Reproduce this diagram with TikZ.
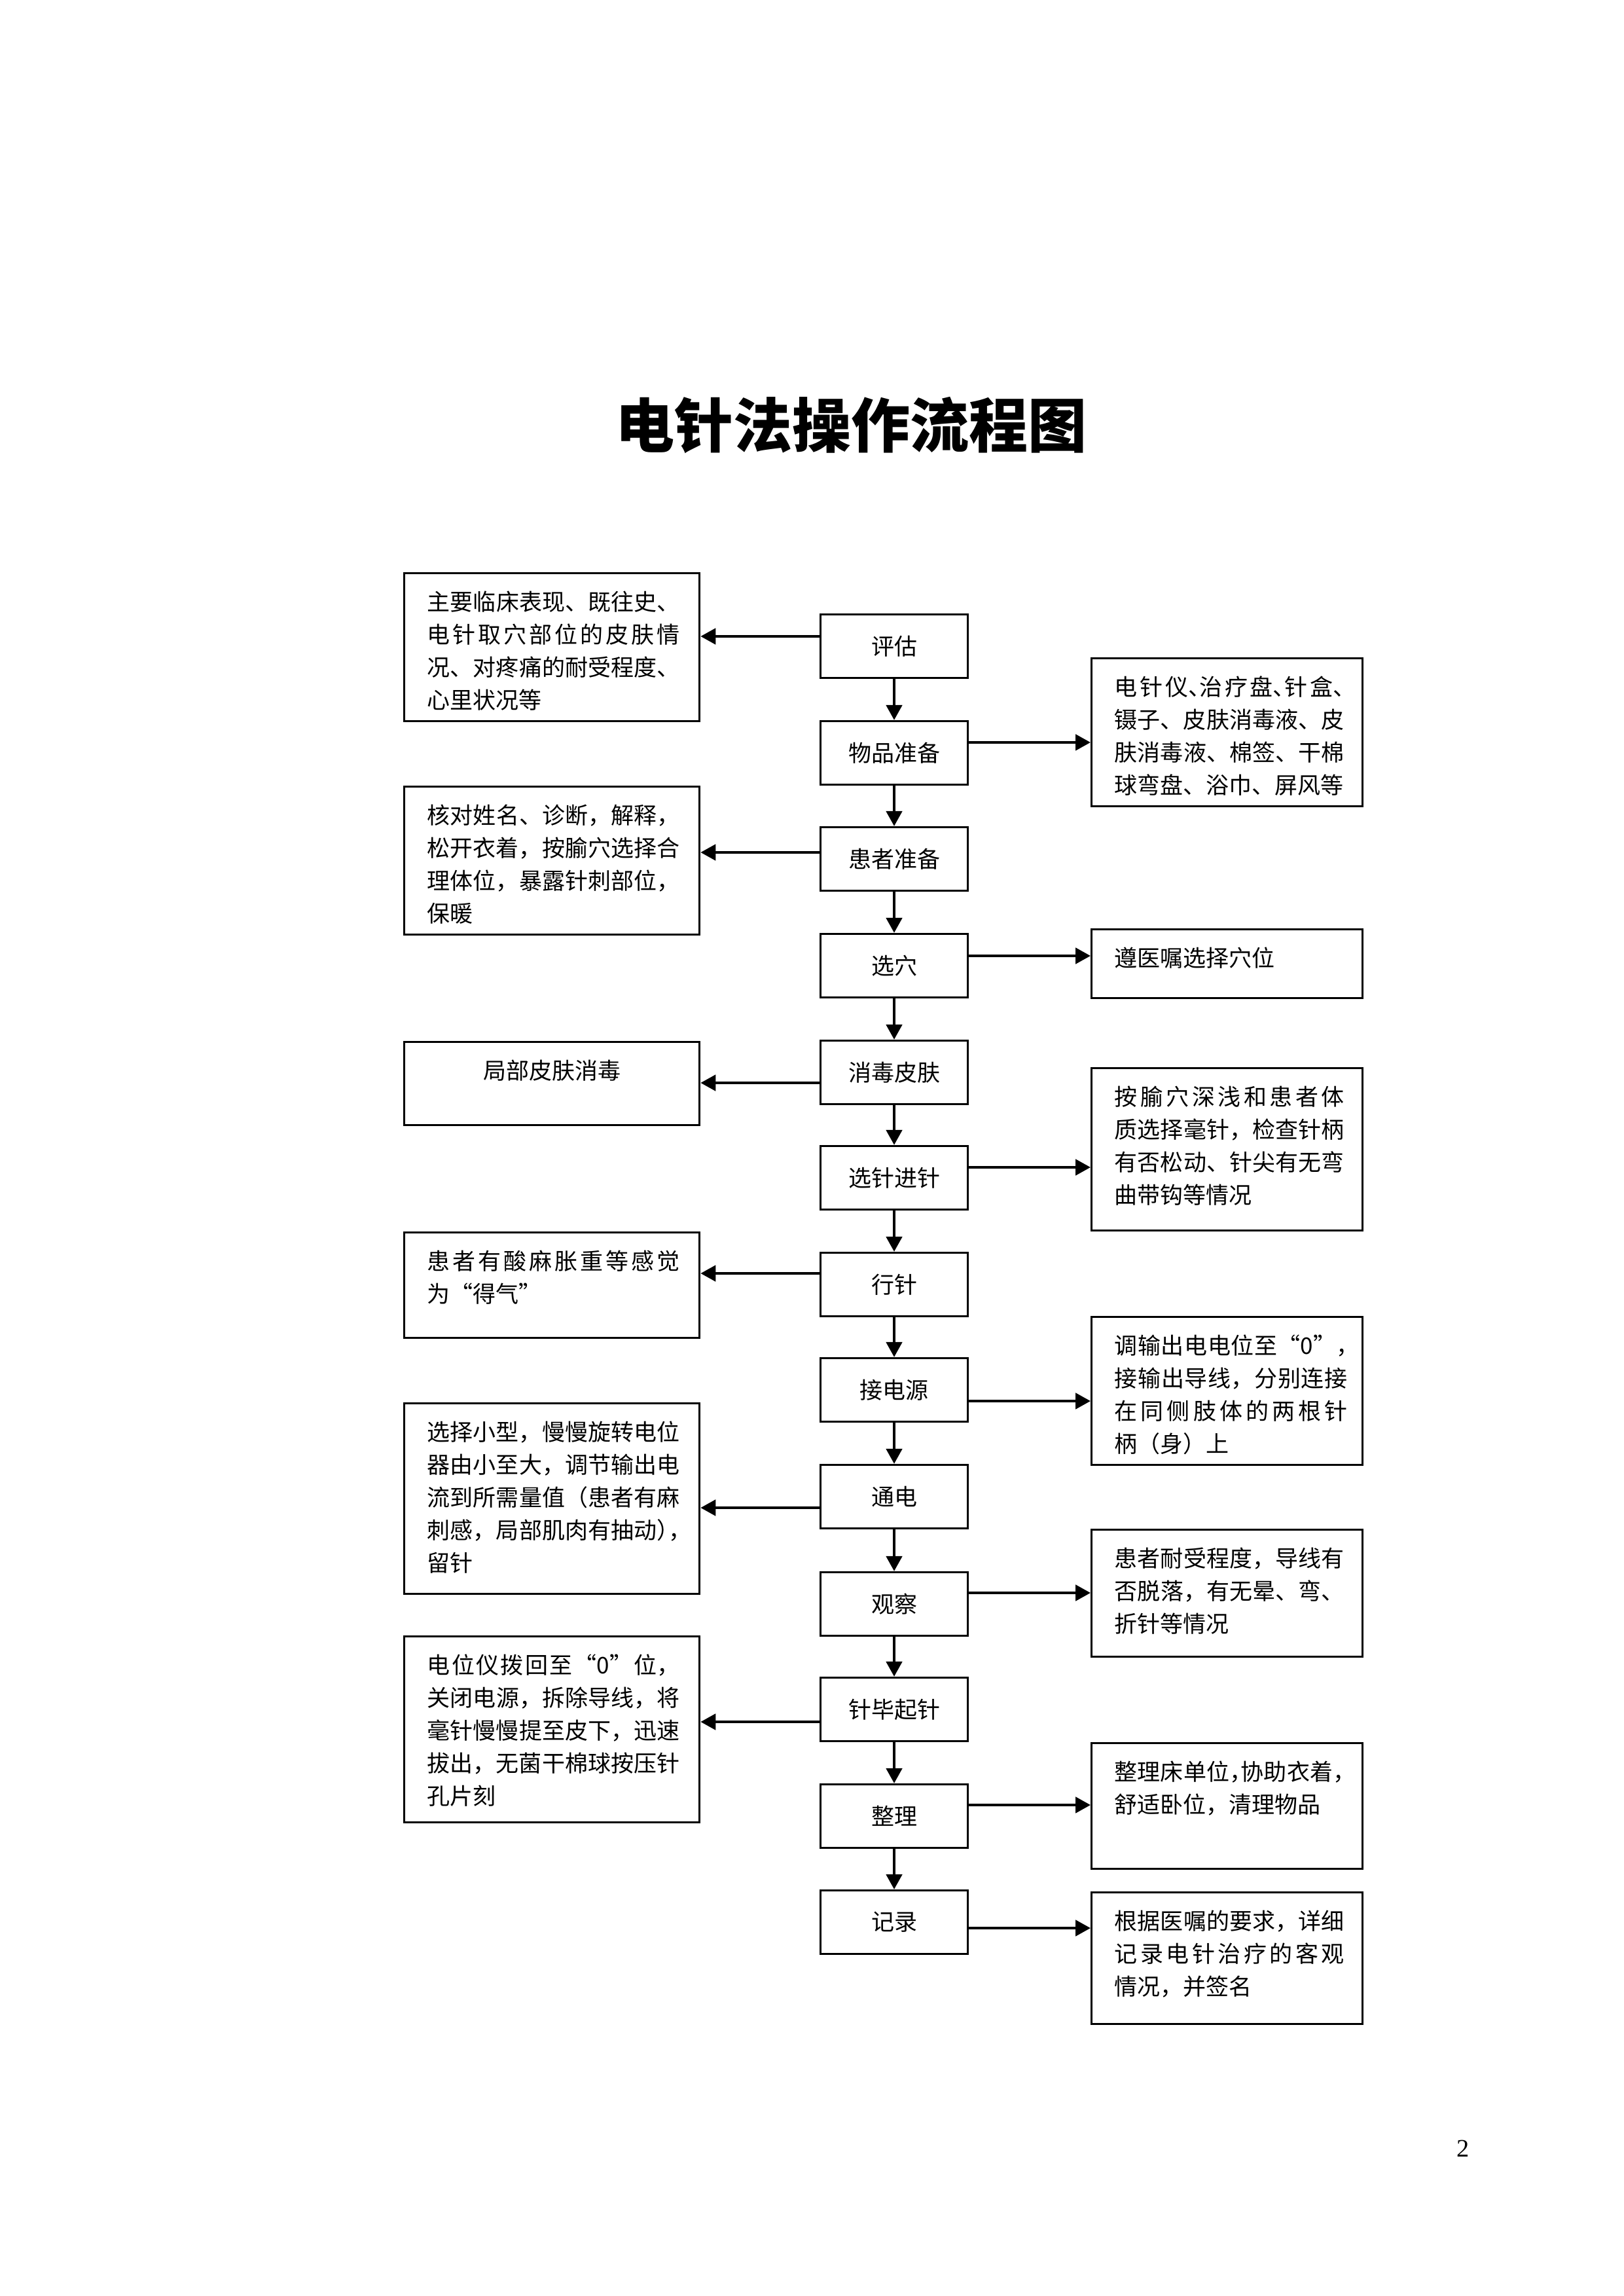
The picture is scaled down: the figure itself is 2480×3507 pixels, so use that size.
\documentclass[tikz,border=0pt]{standalone}
\usepackage{fontspec}
\setmainfont{Liberation Serif}
\newfontfamily\cjk{Noto Sans CJK SC}
\usetikzlibrary{arrows.meta,calc}
\XeTeXlinebreaklocale "zh"
\XeTeXlinebreakskip=0pt plus 1pt
\newlength{\pxu}
\setlength{\pxu}{0.24pt}
% text of a side box: box width, box height, text width, lines (top aligned, justified)
\newcommand{\notetext}[4]{\parbox[c][#2\pxu][t]{#1\pxu}{\parindent=0pt\tolerance=10000\hbadness=10000
  \leftskip=35\pxu\rightskip=\dimexpr#1\pxu-35\pxu-#3\pxu\relax
  \vspace*{22\pxu}\strut#4}}
% half width punctuation
\newcommand{\hw}[1]{\makebox[0.5em][l]{#1}}

\begin{document}
\begin{tikzpicture}[x=0.24pt,y=-0.24pt,
  every node/.style={font=\cjk\fontsize{8.4}{12}\selectfont},
  stepbox/.style={draw,line width=0.8pt,minimum width=225\pxu,minimum height=97\pxu,inner sep=0pt},
  notebox/.style={draw,line width=0.8pt,anchor=north west,inner sep=0pt},
  arr/.style={line width=1pt,-{Triangle[length=5.5pt,width=5.8pt]}}]
\useasboundingbox (0,0) rectangle (2480,3507);

    \node[font=\cjk\bfseries\fontsize{21.6}{26}\selectfont] (ttl) at (1300,650) {电针法操作流程图};

    % main steps
    \node[stepbox] (pg) at (1366,987) {评估};
    \node[stepbox] (wp) at (1366,1150) {物品准备};
    \node[stepbox] (hz) at (1366,1312) {患者准备};
    \node[stepbox] (xx) at (1366,1475) {选穴};
    \node[stepbox] (xd) at (1366,1638) {消毒皮肤};
    \node[stepbox] (xz) at (1366,1799) {选针进针};
    \node[stepbox] (hq) at (1366,1962) {行针};
    \node[stepbox] (jd) at (1366,2123) {接电源};
    \node[stepbox] (td) at (1366,2286) {通电};
    \node[stepbox] (gc) at (1366,2450) {观察};
    \node[stepbox] (qz) at (1366,2611) {针毕起针};
    \node[stepbox] (zl) at (1366,2774) {整理};
    \node[stepbox] (jl) at (1366,2936) {记录};

    % left notes
    \node[notebox] (pgn) at (616,874) {\notetext{451}{226}{386}{主要临床表现、既往史、\linebreak 电针取穴部位的皮肤情\linebreak 况、对疼痛的耐受程度、\linebreak 心里状况等}};
    \node[notebox] (hzn) at (616,1200) {\notetext{451}{226}{386}{核对姓名、诊断，解释，\linebreak 松开衣着，按腧穴选择合\linebreak 理体位，暴露针刺部位，\linebreak 保暖}};
    \node[notebox] (xdn) at (616,1590) {\notetext{451}{127}{386}{{\centering 局部皮肤消毒\par}}};
    \node[notebox] (hqn) at (616,1881) {\notetext{451}{161}{386}{患者有酸麻胀重等感觉\linebreak 为“得气”}};
    \node[notebox] (tdn) at (616,2142) {\notetext{451}{291}{386}{选择小型，慢慢旋转电位\linebreak 器由小至大，调节输出电\linebreak 流到所需量值（患者有麻\linebreak 刺感，局部肌肉有抽动\hw{）}\hw{，}\linebreak 留针}};
    \node[notebox] (qzn) at (616,2498) {\notetext{451}{284}{386}{电位仪拨回至“0”位，\linebreak 关闭电源，拆除导线，将\linebreak 毫针慢慢提至皮下，迅速\linebreak 拔出，无菌干棉球按压针\linebreak 孔片刻}};

    % right notes
    \node[notebox] (wpn) at (1666,1004) {\notetext{414}{226}{351}{电针仪\hw{、}治疗盘\hw{、}针盒\hw{、}\linebreak 镊子、皮肤消毒液、皮\linebreak 肤消毒液、棉签、干棉\linebreak 球弯盘、浴巾、屏风等}};
    \node[notebox] (xxn) at (1666,1418) {\notetext{414}{105}{351}{遵医嘱选择穴位}};
    \node[notebox] (xzn) at (1666,1630) {\notetext{414}{248}{351}{按腧穴深浅和患者体\linebreak 质选择毫针，检查针柄\linebreak 有否松动、针尖有无弯\linebreak 曲带钩等情况}};
    \node[notebox] (jdn) at (1666,2010) {\notetext{414}{226}{356}{调输出电电位至“0”\hw{，}\linebreak 接输出导线，分别连接\linebreak 在同侧肢体的两根针\linebreak 柄（身）上}};
    \node[notebox] (gcn) at (1666,2335) {\notetext{414}{194}{351}{患者耐受程度，导线有\linebreak 否脱落，有无晕、弯、\linebreak 折针等情况}};
    \node[notebox] (zln) at (1666,2661) {\notetext{414}{192}{351}{整理床单位\hw{，}协助衣着\hw{，}\linebreak 舒适卧位，清理物品}};
    \node[notebox] (jln) at (1666,2889) {\notetext{414}{201}{351}{根据医嘱的要求，详细\linebreak 记录电针治疗的客观\linebreak 情况，并签名}};

    \node[font=\rmfamily\fontsize{9.2}{11}\selectfont] (pno) at (2235,3282) {2};

    % flow down
    \draw[arr] (pg) -- (wp);
    \draw[arr] (wp) -- (hz);
    \draw[arr] (hz) -- (xx);
    \draw[arr] (xx) -- (xd);
    \draw[arr] (xd) -- (xz);
    \draw[arr] (xz) -- (hq);
    \draw[arr] (hq) -- (jd);
    \draw[arr] (jd) -- (td);
    \draw[arr] (td) -- (gc);
    \draw[arr] (gc) -- (qz);
    \draw[arr] (qz) -- (zl);
    \draw[arr] (zl) -- (jl);

    % to the notes
    \draw[arr] ($(pg.west)+(0,-15)$) -- ($(pg.west-|pgn.east)+(0,-15)$);
    \draw[arr] ($(wp.east)+(0,-16)$) -- ($(wp.east-|wpn.west)+(0,-16)$);
    \draw[arr] ($(hz.west)+(0,-10)$) -- ($(hz.west-|hzn.east)+(0,-10)$);
    \draw[arr] ($(xx.east)+(0,-15)$) -- ($(xx.east-|xxn.west)+(0,-15)$);
    \draw[arr] ($(xd.west)+(0,16)$) -- ($(xd.west-|xdn.east)+(0,16)$);
    \draw[arr] ($(xz.east)+(0,-16)$) -- ($(xz.east-|xzn.west)+(0,-16)$);
    \draw[arr] ($(hq.west)+(0,-17)$) -- ($(hq.west-|hqn.east)+(0,-17)$);
    \draw[arr] ($(jd.east)+(0,17)$) -- ($(jd.east-|jdn.west)+(0,17)$);
    \draw[arr] ($(td.west)+(0,17)$) -- ($(td.west-|tdn.east)+(0,17)$);
    \draw[arr] ($(gc.east)+(0,-17)$) -- ($(gc.east-|gcn.west)+(0,-17)$);
    \draw[arr] ($(qz.west)+(0,19)$) -- ($(qz.west-|qzn.east)+(0,19)$);
    \draw[arr] ($(zl.east)+(0,-17)$) -- ($(zl.east-|zln.west)+(0,-17)$);
    \draw[arr] ($(jl.east)+(0,9)$) -- ($(jl.east-|jln.west)+(0,9)$);
\end{tikzpicture}
\end{document}
